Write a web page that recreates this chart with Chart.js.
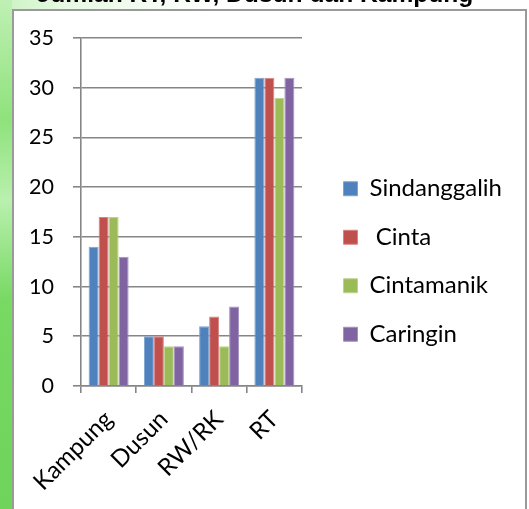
<!DOCTYPE html>
<html>
<head>
<meta charset="utf-8">
<script src="https://cdn.jsdelivr.net/npm/chart.js@4.4.1/dist/chart.umd.min.js"></script>
<style>
html,body{margin:0;padding:0;width:529px;height:509px;overflow:hidden;}
body{position:relative;background:linear-gradient(to right,#c9f2c0 0,#e6f9e2 60px,#ffffff 220px);}
.side{position:absolute;left:0;top:0;width:12px;height:509px;background:linear-gradient(to bottom,#bff0b4 0,#8fe27c 120px,#b9f0ae 200px,#78d963 300px,#6fd45b 509px);}
.box{position:absolute;left:12px;top:9px;width:511px;height:520px;background:#fff;border:2px solid #9a9a9a;}
#wrap{position:absolute;left:0;top:-20px;width:529px;height:529px;}
</style>
</head>
<body>
<div class="side"></div>
<div class="box"></div>
<div id="wrap"><canvas id="c"></canvas></div>
<script>
const titleText='Jumlah RT, RW, Dusun dan Kampung';
const categories=['Kampung','Dusun','RW/RK','RT'];
const seriesNames=['Sindanggalih',' Cinta','Cintamanik','Caringin'];
const sindanggalih=[14,5,6,31];
const cinta=[17,5,7,31];
const cintamanik=[17,4,4,29];
const caringin=[13,4,8,31];
const yTicks=[0,5,10,15,20,25,30,35];

const colors=['#4f81bd','#c0504d','#9bbb59','#8064a2'];
const edges=['#7fa3d1','#d58583','#bcd38e','#a590c0'];
const values=[sindanggalih,cinta,cintamanik,caringin];
const gridGray='#868686';
const fam='Lato, "Open Sans", sans-serif';
const bigFont={family:fam,size:24};
const tickFont={family:fam,size:21.5};

// legend: fixed width (layout caps it otherwise) and nudged into place
const legendFix={id:'legendFix',
  beforeLayout(chart){
    const lg=chart.legend;
    if(lg&&!lg._wrapped){const f=lg.fit;lg.fit=function(){f.call(this);this.width=208;};lg._wrapped=true;}
  },
  afterLayout(chart){
    const lg=chart.legend;if(!lg)return;
    lg.left+=17;lg.right+=17;lg.top+=17;lg.bottom+=17;
  }
};

new Chart(document.getElementById('c'),{
  type:'bar',
  data:{labels:categories,datasets:values.map((v,i)=>({label:seriesNames[i],data:v,backgroundColor:colors[i],borderColor:edges[i],borderWidth:1,categoryPercentage:0.724,barPercentage:1}))},
  options:{
    responsive:true,maintainAspectRatio:false,animation:false,
    layout:{padding:{left:0,right:19,top:0,bottom:0}},
    plugins:{
      title:{display:true,text:titleText,color:'#000',font:{family:'"Liberation Sans", Arial, sans-serif',size:24.6,weight:'bold',lineHeight:1.2},padding:{top:0,bottom:28.5}},
      legend:{position:'right',labels:{color:'#000',font:bigFont,boxWidth:14,boxHeight:14,padding:24.5}},
      tooltip:{enabled:false}
    },
    scales:{
      x:{
        grid:{display:true,drawOnChartArea:false,drawTicks:true,tickLength:7,color:gridGray,lineWidth:1.6,offset:true},
        border:{color:gridGray,width:1.6},
        ticks:{color:'#000',font:bigFont,minRotation:45,maxRotation:45,padding:12},
        afterFit:s=>{s.height=123;}
      },
      y:{
        min:0,max:35,
        afterBuildTicks:s=>{s.ticks=yTicks.map(v=>({value:v}));},
        grid:{color:gridGray,lineWidth:1.6,tickLength:8},
        border:{color:gridGray,width:1.6},
        ticks:{color:'#000',font:tickFont,padding:19},
        afterFit:s=>{s.width=81;}
      }
    }
  },
  plugins:[legendFix]
});
</script>
</body>
</html>
